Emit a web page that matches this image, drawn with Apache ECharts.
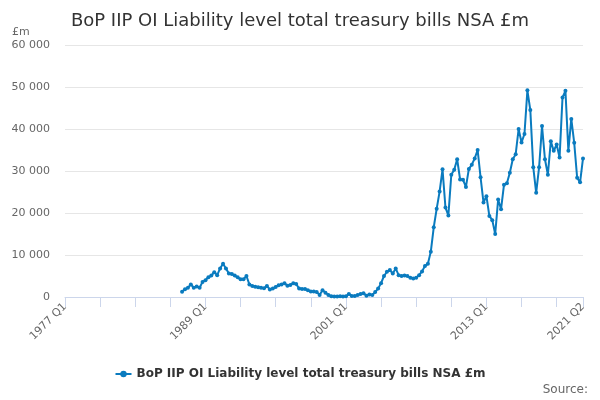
<!DOCTYPE html>
<html>
<head>
<meta charset="utf-8">
<script src="https://cdn.jsdelivr.net/npm/echarts@6/dist/echarts.min.js"></script>
<style>
  html, body { margin: 0; padding: 0; background: #fff; }
  #chart { width: 600px; height: 400px; }
</style>
</head>
<body>
<div id="chart"></div>
<script>
// quarters run 1977 Q1 .. 2021 Q2, series starts in 1987 Q1
const firstYear = 1977;
const lastYear = 2021;
const lastQuarter = 2;
const seriesStart = '1987 Q1';
const seriesName = 'BoP IIP OI Liability level total treasury bills NSA £m';
const yTicks = [0, 10000, 20000, 30000, 40000, 50000, 60000];

// £m, 1987 Q1 onwards
const liabilityValues = [
    1260, 1830, 2200, 3000, 2200, 2500, 2200, 3600,   // 1987-1988
    4000, 4700, 5100, 5900, 5200, 6800, 7900, 6800,   // 1989-1990
    5600, 5500, 5100, 4700, 4200, 4200, 5000, 3000,   // 1991-1992
    2600, 2450, 2300, 2200, 2100, 2600, 1800, 2000,   // 1993-1994
    2400, 2800, 3000, 3300, 2700, 2850, 3300, 3100,   // 1995-1996
    2000, 1900, 1900, 1600, 1300, 1300, 1200, 500,    // 1997-1998
    1600, 1000, 500, 200, 100, 100, 150, 100,         // 1999-2000
    200, 700, 250, 250, 450, 700, 900, 300,           // 2001-2002
    600, 450, 1200, 2000, 3300, 5000, 6000, 6400,     // 2003-2004
    5600, 6800, 5200, 5000, 5100, 5000, 4600, 4400,   // 2005-2006
    4600, 5200, 6100, 7400, 7900, 10800, 16600, 21000, // 2007-2008
    25100, 30400, 21300, 19400, 29100, 30300, 32800, 28000, // 2009-2010
    27900, 26200, 30500, 31500, 33000, 35000, 28500, 22500, // 2011-2012
    24000, 19300, 18300, 15000, 23200, 20900, 26700, 27100, // 2013-2014
    29600, 32800, 34000, 40000, 36800, 38800, 49200, 44500, // 2015-2016
    30900, 24800, 30900, 40700, 32800, 29100, 37100, 34800, // 2017-2018
    36300, 33200, 47500, 49100, 34800, 42400, 36700, 28400, // 2019-2020
    27300, 33000                                      // 2021
];

const quarters = [];
for (let y = firstYear; y <= lastYear; y++) {
    for (let q = 1; q <= 4; q++) {
        if (y === lastYear && q > lastQuarter) break;
        quarters.push(y + ' Q' + q);
    }
}
const lastIdx = quarters.length - 1;
const offset = quarters.indexOf(seriesStart);
const seriesData = quarters.map((_, i) => i < offset ? null : liabilityValues[i - offset]);

const fmt = v => String(v).replace(/\B(?=(\d{3})+(?!\d))/g, ' ');
const blue = '#0a7bbf';
const font = 'DejaVu Sans, Verdana, sans-serif';

const chart = echarts.init(document.getElementById('chart'));
chart.setOption({
    animation: false,
    textStyle: { fontFamily: font },
    title: {
        text: 'BoP IIP OI Liability level total treasury bills NSA £m',
        left: 'center',
        top: 7,
        textStyle: { fontSize: 18, fontWeight: 'normal', color: '#333', fontFamily: font }
    },
    grid: { left: 65, right: 17, top: 45, bottom: 103, containLabel: false },
    legend: {
        bottom: 15,
        left: 'center',
        itemWidth: 16,
        itemHeight: 8,
        textStyle: { fontSize: 12, fontWeight: 'bold', color: '#333', fontFamily: font },
        data: [seriesName]
    },
    graphic: [
        { type: 'text', left: 12, top: 27, style: { text: '£m', fontSize: 11, fill: '#666', fontFamily: font } },
        { type: 'text', right: 12, top: 384, style: { text: 'Source:', fontSize: 12, fill: '#666', fontFamily: font } }
    ],
    xAxis: {
        type: 'category',
        data: quarters,
        boundaryGap: false,
        axisLine: { lineStyle: { color: '#ccd6eb' } },
        axisTick: {
            show: true,
            length: 10,
            interval: (i) => i % 12 === 0 || i === lastIdx,
            lineStyle: { color: '#ccd6eb' }
        },
        axisLabel: {
            interval: (i) => i % 48 === 0 || i === lastIdx,
            rotate: 45,
            margin: 8,
            fontSize: 11,
            color: '#666'
        },
        splitLine: { show: false }
    },
    yAxis: {
        type: 'value',
        min: yTicks[0],
        max: yTicks[yTicks.length - 1],
        interval: yTicks[1] - yTicks[0],
        axisLine: { show: false },
        axisTick: { show: false },
        axisLabel: { formatter: fmt, fontSize: 11, color: '#666', margin: 15 },
        splitLine: { lineStyle: { color: '#e6e6e6' } }
    },
    series: [{
        name: seriesName,
        type: 'line',
        data: seriesData,
        symbol: 'circle',
        symbolSize: 4,
        showSymbol: true,
        showAllSymbol: true,
        lineStyle: { width: 2, color: blue },
        itemStyle: { color: blue }
    }]
});
</script>
</body>
</html>
